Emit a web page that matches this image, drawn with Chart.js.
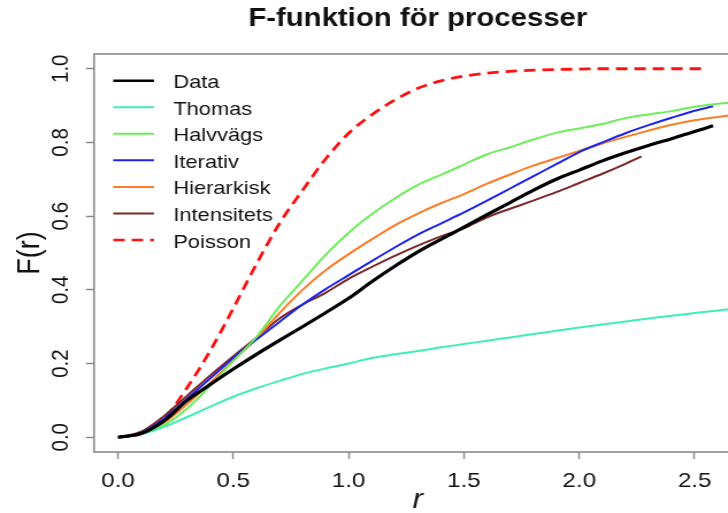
<!DOCTYPE html>
<html>
<head>
<meta charset="utf-8">
<style>
html, body { margin: 0; padding: 0; overflow: hidden; background: #fff; width: 728px; height: 513px; }
/* the reference is a bit wider than tall, so the whole canvas is stretched sideways */
#wrap { transform: scaleX(1.15); transform-origin: 0 0; width: 660px; height: 513px; }
</style>
</head>
<body>
<div id="wrap"><canvas id="c" width="660" height="513"></canvas></div>

<script src="https://cdn.jsdelivr.net/npm/chart.js"></script>
<script>
// r grid, step 0.1; the last value of each series sits at its own end point (lastR)
const rGrid = [0, 0.1, 0.2, 0.3, 0.4, 0.5, 0.6, 0.7, 0.8, 0.9, 1.0, 1.1, 1.2, 1.3,
               1.4, 1.5, 1.6, 1.7, 1.8, 1.9, 2.0, 2.1, 2.2, 2.3, 2.4, 2.5, 2.6, 2.7];

const names  = ['Data', 'Thomas', 'Halvvägs', 'Iterativ', 'Hierarkisk', 'Intensitets', 'Poisson'];
const colors = ['#000000', '#3ef0b0', '#6bee58', '#1e22ee', '#ff7a25', '#7b2828', '#ff1010'];
const lastR  = [2.58, 2.7, 2.7, 2.58, 2.7, 2.27, 2.55];

const fData = [0, 0.01, 0.045, 0.1, 0.143, 0.185, 0.225, 0.263, 0.3, 0.338, 0.377, 0.422, 0.464, 0.503,
               0.537, 0.57, 0.604, 0.637, 0.67, 0.7, 0.725, 0.75, 0.772, 0.792, 0.81, 0.83, 0.845];
const fThomas = [0, 0.008, 0.028, 0.055, 0.083, 0.11, 0.133, 0.153, 0.172, 0.187, 0.2, 0.215, 0.225, 0.234,
                 0.244, 0.253, 0.262, 0.271, 0.28, 0.289, 0.298, 0.306, 0.314, 0.322, 0.33, 0.337, 0.344, 0.351];
const fHalv = [0, 0.008, 0.033, 0.078, 0.14, 0.207, 0.272, 0.355, 0.425, 0.495, 0.555, 0.605, 0.648, 0.685,
               0.712, 0.74, 0.768, 0.787, 0.808, 0.826, 0.838, 0.85, 0.866, 0.876, 0.885, 0.897, 0.905, 0.91];
const fIter = [0, 0.012, 0.05, 0.105, 0.16, 0.215, 0.265, 0.313, 0.36, 0.402, 0.44, 0.478, 0.515, 0.55,
               0.58, 0.61, 0.642, 0.675, 0.708, 0.741, 0.774, 0.8, 0.825, 0.847, 0.867, 0.886, 0.898];
const fHier = [0, 0.01, 0.04, 0.09, 0.148, 0.208, 0.268, 0.337, 0.4, 0.453, 0.497, 0.537, 0.575, 0.607,
               0.635, 0.66, 0.688, 0.713, 0.737, 0.757, 0.777, 0.797, 0.815, 0.832, 0.848, 0.86, 0.869, 0.877];
const fInt = [0, 0.015, 0.058, 0.113, 0.168, 0.22, 0.27, 0.322, 0.36, 0.392, 0.43, 0.462, 0.492, 0.52,
              0.545, 0.567, 0.597, 0.62, 0.642, 0.665, 0.69, 0.715, 0.742, 0.762];
const fPois = [0, 0.01, 0.05, 0.135, 0.235, 0.35, 0.47, 0.58, 0.67, 0.755, 0.825, 0.875, 0.915, 0.947,
               0.967, 0.98, 0.988, 0.993, 0.996, 0.998, 0.999, 1, 1, 1, 1, 1, 1];

const series = [fData, fThomas, fHalv, fIter, fHier, fInt, fPois];

const xTicks = [0, 0.5, 1.0, 1.5, 2.0, 2.5];
const yTicks = [0, 0.2, 0.4, 0.6, 0.8, 1.0];

const SX = 1.15;      // same as the css stretch
const GRAY = '#8a8a8a';

Chart.defaults.font.family = '"Liberation Sans", Arial, Helvetica, sans-serif';
Chart.defaults.color = '#111';

function points(f, k) {
	return f.map((v, i) => ({ x: i === f.length - 1 ? lastR[k] : rGrid[i], y: v }));
}

const datasets = series.map((f, k) => ({
	label: names[k],
	data: points(f, k),
	borderColor: colors[k],
	borderWidth: k === 0 ? 3.2 : (k === 6 ? 2.8 : 2),
	borderDash: k === 6 ? [10, 6] : [],
	pointRadius: 0,
	fill: false,
	cubicInterpolationMode: 'monotone'
}));

// box round the plot region, like R's bty="o"
const boxPlugin = {
	id: 'box',
	beforeDatasetsDraw(chart) {
		const { ctx, chartArea: a } = chart;
		ctx.save();
		ctx.strokeStyle = GRAY;
		ctx.lineWidth = 1.6;
		ctx.strokeRect(a.left, a.top, a.right - a.left, a.bottom - a.top);
		ctx.restore();
	}
};

// legend inside the plot, no frame
const legendPlugin = {
	id: 'rlegend',
	afterDatasetsDraw(chart) {
		const ctx = chart.ctx;
		ctx.save();
		chart.data.datasets.forEach((ds, i) => {
			const y = 80.7 + i * 26.55;
			ctx.beginPath();
			ctx.strokeStyle = ds.borderColor;
			ctx.lineWidth = Math.min(ds.borderWidth, 2.5);
			ctx.setLineDash(ds.borderDash);
			ctx.moveTo(98.5, y);
			ctx.lineTo(133.9, y);
			ctx.stroke();
			ctx.setLineDash([]);
			ctx.fillStyle = '#111';
			ctx.font = '19px "Liberation Sans", Arial, sans-serif';
			ctx.textBaseline = 'alphabetic';
			ctx.fillText(ds.label, 150.7, y + 7.5);
		});
		ctx.restore();
	}
};

new Chart(document.getElementById('c'), {
	type: 'line',
	data: { datasets },
	plugins: [boxPlugin, legendPlugin],
	options: {
		responsive: false,
		animation: false,
		events: [],
		layout: { padding: { left: 0, top: 0, right: 15.1, bottom: 0 } },
		plugins: {
			legend: { display: false },
			tooltip: { enabled: false },
			title: {
				display: true,
				text: 'F-funktion för processer',
				fullSize: false,
				color: '#111',
				font: { size: 25.5, weight: 'bold' },
				padding: { top: 3.5, bottom: 19.9 }
			}
		},
		scales: {
			x: {
				type: 'linear',
				min: -0.104,
				max: 2.704,
				afterFit: s => { s.height = 61; },
				afterBuildTicks: s => { s.ticks = xTicks.map(v => ({ value: v })); },
				border: { display: false },
				grid: { drawOnChartArea: false, drawTicks: true, tickLength: 7, color: GRAY, tickWidth: 1.5 },
				ticks: {
					font: { size: 21 },
					color: '#111',
					padding: 9.5,
					maxRotation: 0,
					autoSkip: false,
					callback: v => v.toFixed(1)
				},
				title: {
					display: true,
					text: 'r',
					color: '#111',
					font: { size: 27, style: 'italic', lineHeight: 1 },
					padding: { top: 0, bottom: -1 }
				}
			},
			y: {
				min: -0.04,
				max: 1.04,
				afterFit: s => { s.width = 94 / SX; },
				afterBuildTicks: s => { s.ticks = yTicks.map(v => ({ value: v })); },
				border: { display: false },
				grid: { drawOnChartArea: false, drawTicks: true, tickLength: 7, color: GRAY, tickWidth: 1.5 },
				ticks: {
					font: { size: 20.5 },
					color: '#111',
					padding: 7,
					minRotation: 90,
					maxRotation: 90,
					crossAlign: 'center',
					autoSkip: false,
					callback: v => v.toFixed(1)
				},
				title: {
					display: true,
					text: 'F(r)',
					color: '#111',
					font: { size: 27, lineHeight: 1 },
					padding: { top: 13.5, bottom: 0 }
				}
			}
		}
	}
});
</script>
</body>
</html>
